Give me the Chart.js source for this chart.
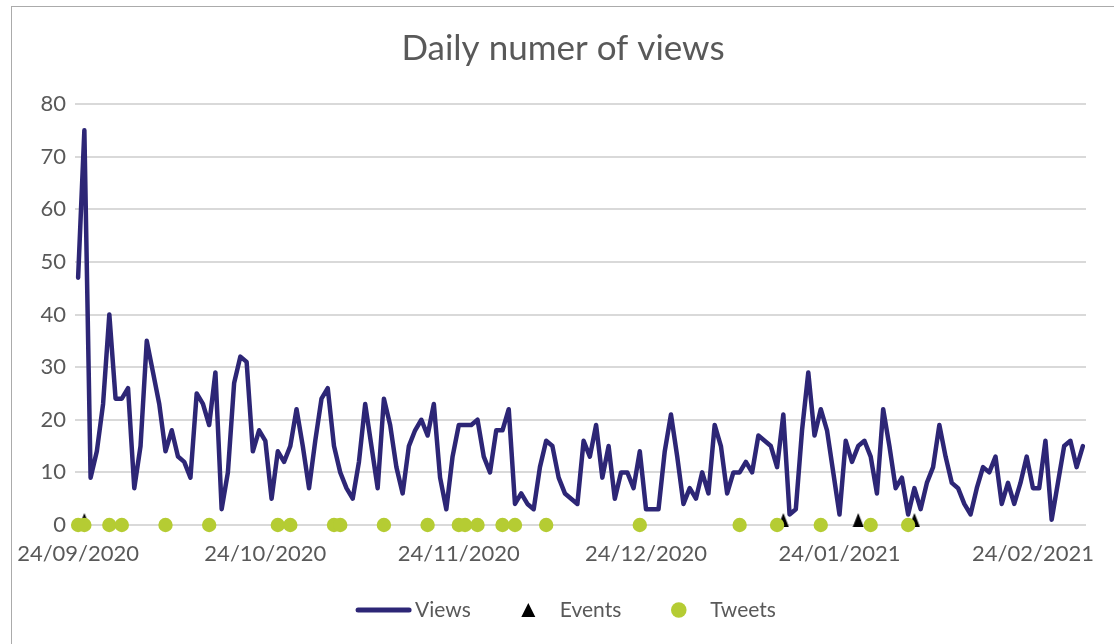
<!DOCTYPE html>
<html>
<head>
<meta charset="utf-8">
<title>Daily numer of views</title>
<script src="https://cdn.jsdelivr.net/npm/chart.js@4.4.1/dist/chart.umd.min.js"></script>
<style>
    html, body { margin: 0; padding: 0; background: #fff; overflow: hidden; }
    #wrap { position: relative; width: 1114px; height: 644px; }
    #frame { position: absolute; left: 11px; top: 6px; width: 1110px; height: 650px;
             border-left: 1px solid #ababab; border-top: 1px solid #ababab; pointer-events: none; }
    canvas { position: absolute; left: 0; top: 0; }
</style>
</head>
<body>
<div id="wrap">
    <canvas id="myChart" width="1114" height="644"></canvas>
    <div id="frame"></div>
</div>
<script>
// daily views from 24/09/2020 onwards, one value per day
const views = [
    47, 75, 9, 14, 23, 40, 24, 24, 26, 7, 15, 35, 29, 23, 14, 18, 13, 12, 9, 25,
    23, 19, 29, 3, 10, 27, 32, 31, 14, 18, 16, 5, 14, 12, 15, 22, 15, 7, 16, 24,
    26, 15, 10, 7, 5, 12, 23, 15, 7, 24, 19, 11, 6, 15, 18, 20, 17, 23, 9, 3,
    13, 19, 19, 19, 20, 13, 10, 18, 18, 22, 4, 6, 4, 3, 11, 16, 15, 9, 6, 5,
    4, 16, 13, 19, 9, 15, 5, 10, 10, 7, 14, 3, 3, 3, 14, 21, 13, 4, 7, 5,
    10, 6, 19, 15, 6, 10, 10, 12, 10, 17, 16, 15, 11, 21, 2, 3, 18, 29, 17, 22,
    18, 10, 2, 16, 12, 15, 16, 13, 6, 22, 15, 7, 9, 2, 7, 3, 8, 11, 19, 13,
    8, 7, 4, 2, 7, 11, 10, 13, 4, 8, 4, 8, 13, 7, 7, 16, 1, 8, 15, 16,
    11, 15
];

const eventDates = ['25/09/2020', '15/01/2021', '27/01/2021', '05/02/2021'];

const tweetDates = [
    '24/09/2020', '25/09/2020', '29/09/2020', '01/10/2020', '08/10/2020', '15/10/2020',
    '26/10/2020', '28/10/2020', '04/11/2020', '05/11/2020', '12/11/2020', '19/11/2020',
    '24/11/2020', '25/11/2020', '27/11/2020', '01/12/2020', '03/12/2020', '08/12/2020',
    '23/12/2020', '08/01/2021', '14/01/2021', '21/01/2021', '29/01/2021', '04/02/2021'
];

const tickLabels = ['24/09/2020', '24/10/2020', '24/11/2020', '24/12/2020', '24/01/2021', '24/02/2021'];

const textColor = '#595959';
const lineColor = '#2d2676';
const tweetColor = '#b5cc33';
const fontFamily = 'Lato, "Open Sans", sans-serif';

function pad2(n) {
    return String(n).padStart(2, '0');
}

// one category per day, starting on 24/09/2020
const days = views.map(function (v, i) {
    const d = new Date(2020, 8, 24 + i);
    return pad2(d.getDate()) + '/' + pad2(d.getMonth() + 1) + '/' + d.getFullYear();
});

// excel-like triangle marker: apex sits higher than the point
function triangleMarker() {
    const c = document.createElement('canvas');
    c.width = 12;
    c.height = 24;
    const g = c.getContext('2d');
    g.fillStyle = '#000';
    g.beginPath();
    g.moveTo(6, 0);
    g.lineTo(11.5, 14);
    g.lineTo(0.5, 14);
    g.closePath();
    g.fill();
    return c;
}

const legendPlugin = {
    id: 'excelLegend',
    afterDraw(chart) {
        const ctx = chart.ctx;
        const keyW = 55, gap = 4, spacing = 30, cy = 610, cx = 566;
        ctx.save();
        ctx.font = '21px ' + fontFamily;
        ctx.textBaseline = 'middle';
        ctx.textAlign = 'left';

        const items = chart.data.datasets.map(function (ds) {
            return { ds: ds, w: keyW + gap + ctx.measureText(ds.label).width };
        });
        let total = spacing * (items.length - 1);
        items.forEach(function (it) { total += it.w; });

        let x = cx - total / 2;
        items.forEach(function (it) {
            const ds = it.ds;
            const mid = x + keyW / 2;
            if (ds.showLine !== false) {
                ctx.strokeStyle = ds.borderColor;
                ctx.lineWidth = 5;
                ctx.lineCap = 'round';
                ctx.beginPath();
                ctx.moveTo(x + 2, cy);
                ctx.lineTo(x + keyW - 2, cy);
                ctx.stroke();
            } else if (ds.pointStyle === 'circle') {
                ctx.fillStyle = ds.backgroundColor;
                ctx.beginPath();
                ctx.arc(mid, cy, 7.8, 0, Math.PI * 2);
                ctx.fill();
            } else {
                ctx.fillStyle = '#000';
                ctx.beginPath();
                ctx.moveTo(mid, cy - 7);
                ctx.lineTo(mid + 7, cy + 7);
                ctx.lineTo(mid - 7, cy + 7);
                ctx.closePath();
                ctx.fill();
            }
            ctx.fillStyle = textColor;
            ctx.fillText(ds.label, x + keyW + gap, cy);
            x += it.w + spacing;
        });
        ctx.restore();
    }
};

new Chart(document.getElementById('myChart'), {
    type: 'line',
    data: {
        labels: days,
        datasets: [{
            label: 'Views',
            data: views,
            borderColor: lineColor,
            borderWidth: 4.5,
            borderJoinStyle: 'round',
            borderCapStyle: 'round',
            pointRadius: 0,
            tension: 0,
            order: 3
        }, {
            label: 'Events',
            data: eventDates.map(function (d) { return { x: d, y: 0 }; }),
            showLine: false,
            pointStyle: triangleMarker(),
            pointRadius: 7,
            clip: false,
            order: 2
        }, {
            label: 'Tweets',
            data: tweetDates.map(function (d) { return { x: d, y: 0 }; }),
            showLine: false,
            pointStyle: 'circle',
            pointRadius: 7.2,
            borderWidth: 0,
            backgroundColor: tweetColor,
            borderColor: tweetColor,
            clip: false,
            order: 1
        }]
    },
    options: {
        responsive: false,
        animation: false,
        events: [],
        layout: {
            padding: { left: 40, right: 28, top: 0, bottom: 0 }
        },
        plugins: {
            legend: { display: false },
            tooltip: { enabled: false },
            title: {
                display: true,
                text: 'Daily numer of views',
                color: textColor,
                font: { family: fontFamily, size: 35, weight: 'normal' },
                padding: { top: 28, bottom: 34 }
            }
        },
        scales: {
            x: {
                offset: true,
                grid: { display: false, drawTicks: false },
                border: { display: false },
                ticks: {
                    autoSkip: false,
                    maxRotation: 0,
                    padding: 16,
                    color: textColor,
                    font: { family: fontFamily, size: 22 },
                    callback: function (val, i) {
                        return tickLabels.includes(days[i]) ? days[i] : '';
                    }
                },
                afterFit: function (scale) { scale.height = 119; }
            },
            y: {
                min: 0,
                max: 80,
                grid: { color: '#d9d9d9', lineWidth: 2, drawTicks: false },
                border: { display: false },
                ticks: {
                    stepSize: 10,
                    padding: 9,
                    color: textColor,
                    font: { family: fontFamily, size: 22 }
                },
                afterFit: function (scale) { scale.width = 35; }
            }
        }
    },
    plugins: [legendPlugin]
});
</script>
</body>
</html>
